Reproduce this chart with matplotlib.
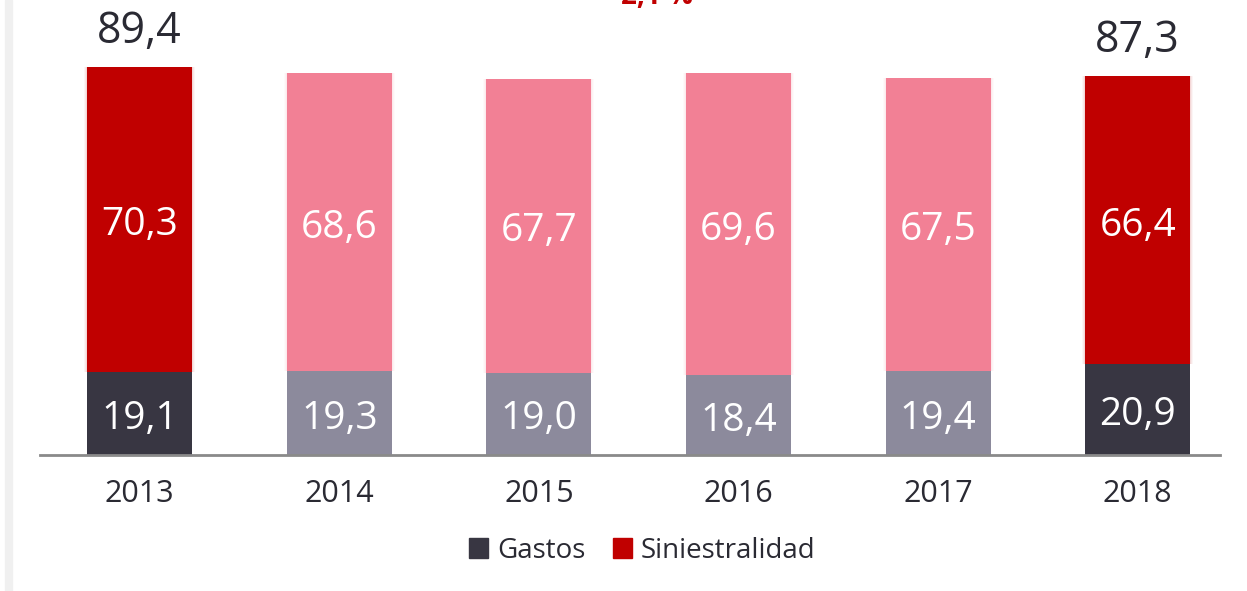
import numpy as np
import matplotlib.pyplot as plt
from matplotlib.patches import Patch, Rectangle

plt.rcParams['font.family'] = ['Open Sans', 'DejaVu Sans']

# ratio combinado por año: gastos + siniestralidad
years = ['2013', '2014', '2015', '2016', '2017', '2018']
gastos = [19.1, 19.3, 19.0, 18.4, 19.4, 20.9]
siniestralidad = [70.3, 68.6, 67.7, 69.6, 67.5, 66.4]
totals = [89.4, None, None, None, None, 87.3]

dark, red = '#383642', '#C00000'
grey, pink = '#8C8A9C', '#F28095'
highlight = [True, False, False, False, False, True]

fig = plt.figure(figsize=(12.47, 5.91), dpi=100)
ax = fig.add_axes([0.032, 0.23, 0.946, 0.77])

x = np.arange(len(years))
w = 0.526
col_g = [dark if h else grey for h in highlight]
col_s = [red if h else pink for h in highlight]

# soft glow around the siniestralidad segments
for k, a in [(0.03, 0.04), (0.02, 0.05), (0.01, 0.07)]:
    ax.bar(x, siniestralidad, w + k, bottom=gastos, color=col_s, alpha=a,
           linewidth=0, zorder=1)

ax.bar(x, gastos, w, color=col_g, linewidth=0, zorder=2)
ax.bar(x, siniestralidad, w, bottom=gastos, color=col_s, linewidth=0, zorder=2)


def fmt(v):
    return f'{v:.1f}'.replace('.', ',')


for i in range(len(years)):
    ax.annotate(fmt(gastos[i]), (x[i], gastos[i] / 2), xytext=(0, -4),
                textcoords='offset points', ha='center', va='center',
                color='white', fontsize=28, zorder=3)
    ax.annotate(fmt(siniestralidad[i]), (x[i], gastos[i] + siniestralidad[i] / 2),
                xytext=(0, -4), textcoords='offset points', ha='center',
                va='center', color='white', fontsize=28, zorder=3)
    if totals[i] is not None:
        ax.annotate(fmt(totals[i]), (x[i], gastos[i] + siniestralidad[i]),
                    xytext=(0, 9), textcoords='offset points',
                    ha='center', va='bottom', color='#2a2a33', fontsize=31)

ax.set_xlim(-0.5, 5.41)
ax.set_ylim(0, 104.8)
ax.set_xticks(x)
ax.set_xticklabels(years, fontsize=22, color='#2a2a33')
ax.tick_params(axis='x', length=0, pad=17)
ax.set_yticks([])
for s in ['top', 'right', 'left']:
    ax.spines[s].set_visible(False)
ax.spines['bottom'].set_color('#8a8a8a')
ax.spines['bottom'].set_linewidth(2)

handles = [Patch(color=dark, label='Gastos'), Patch(color=red, label='Siniestralidad')]
fig.legend(handles=handles, loc='center', bbox_to_anchor=(0.515, 0.068), ncol=2,
           frameon=False, fontsize=20, handlelength=0.7, handleheight=0.7,
           handletextpad=0.3, columnspacing=1.0, labelcolor='#2a2a33')

# variation label sitting at the top edge
fig.text(0.523, 0.994, '-2,1 %', ha='center', va='baseline', color=red,
         fontsize=20, fontweight='bold')

# thin shaded strip on the left border
fig.patches.append(Rectangle((0.004, 0), 0.006, 1, transform=fig.transFigure,
                             color='#f0f0f0', zorder=0))

fig.savefig('out.png', dpi=100)
